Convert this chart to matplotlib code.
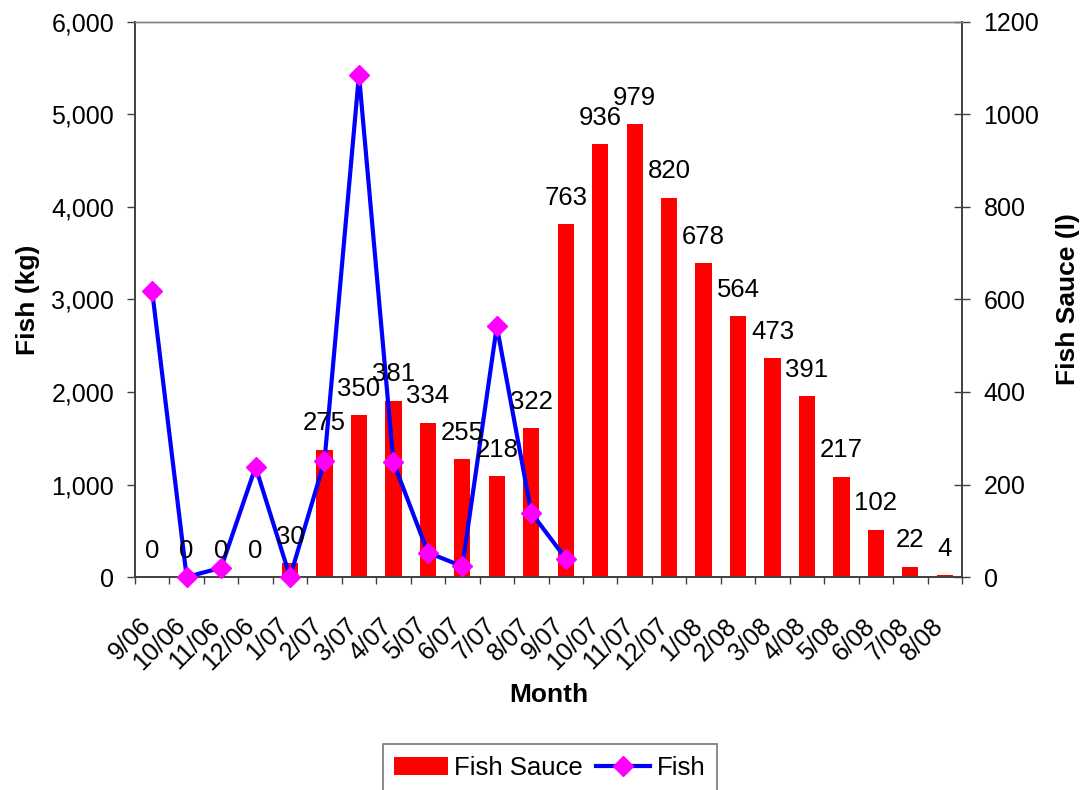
import matplotlib
matplotlib.use("Agg")
import matplotlib.pyplot as plt
from matplotlib.patches import Patch
from matplotlib.lines import Line2D
from matplotlib.ticker import FuncFormatter, FixedLocator

plt.rcParams['font.family'] = ['Liberation Sans', 'DejaVu Sans']

months = ["9/06", "10/06", "11/06", "12/06", "1/07", "2/07", "3/07", "4/07",
          "5/07", "6/07", "7/07", "8/07", "9/07", "10/07", "11/07", "12/07",
          "1/08", "2/08", "3/08", "4/08", "5/08", "6/08", "7/08", "8/08"]
fish_sauce = [0, 0, 0, 0, 30, 275, 350, 381, 334, 255, 218, 322, 763, 936,
              979, 820, 678, 564, 473, 391, 217, 102, 22, 4]
fish = [3090, 0, 100, 1190, 0, 1255, 5430, 1240, 265, 115, 2710, 695, 200]

fig = plt.figure(figsize=(10.84, 7.90), dpi=100)
ax = fig.add_axes([0.1245, 0.2696, 0.763, 0.7026])
ax2 = ax.twinx()

x = list(range(len(months)))
spine_col = '#404040'

# Fish sauce bars on the right axis
ax2.bar(x, fish_sauce, width=0.47, color='#FF0000', zorder=2)
ax2.set_ylim(0, 1200)
ax2.set_yticks(range(0, 1201, 200))
ax2.tick_params(axis='y', direction='inout', length=11, width=1,
                color=spine_col, labelsize=18, pad=10)
ax2.set_ylabel("Fish Sauce (l)", fontsize=19, fontweight='bold')
ax2.yaxis.set_label_coords(1.128, 0.5)
ax2.yaxis.label.set_va('center')

# Fish line on the left axis, drawn above the bars
ax.set_zorder(ax2.get_zorder() + 1)
ax.patch.set_visible(False)
ax.plot(x[:len(fish)], fish, color='#0000FF', linewidth=3,
        marker='D', markersize=10, markerfacecolor='#FF00FF',
        markeredgecolor='#FF00FF', zorder=3, clip_on=False)
ax.set_ylim(0, 6000)
ax.set_yticks(range(0, 6001, 1000))
ax.yaxis.set_major_formatter(FuncFormatter(lambda v, p: f"{int(v):,}"))
ax.tick_params(axis='y', direction='out', length=6, width=1,
               color=spine_col, labelsize=18, pad=9)
ax.set_ylabel("Fish (kg)", fontsize=19, fontweight='bold')
ax.yaxis.set_label_coords(-0.129, 0.5)
ax.yaxis.label.set_va('center')

# Category axis: labels at centres, tick marks at boundaries
ax.set_xlim(-0.5, len(months) - 0.5)
ax.set_xticks(x)
ax.set_xticklabels(months, rotation=45, ha='right', va='baseline',
                   rotation_mode='anchor', fontsize=18)
ax.tick_params(axis='x', which='major', length=0, pad=36)
ax.xaxis.set_minor_locator(FixedLocator([i - 0.5 for i in range(len(months) + 1)]))
ax.tick_params(axis='x', which='minor', direction='out', length=5, width=1,
               color=spine_col)
ax.set_xlabel("Month", fontsize=19, fontweight='bold')
ax.xaxis.set_label_coords(0.5, -0.2126)
ax.xaxis.label.set_va('center')

for a in (ax, ax2):
    for s in ('left', 'right', 'bottom'):
        a.spines[s].set_color(spine_col)
        a.spines[s].set_linewidth(1.2)
    a.spines['top'].set_color('#808080')
    a.spines['top'].set_linewidth(1.0)

# Value labels above each bar
for i, v in enumerate(fish_sauce):
    ax.annotate(str(v), xy=(i, v), xycoords=ax2.transData,
                xytext=(0, 14), textcoords='offset points',
                ha='center', va='baseline', fontsize=18.5, zorder=5)

handles = [Patch(facecolor='#FF0000', edgecolor='none'),
           Line2D([0], [0], color='#0000FF', linewidth=3, marker='D',
                  markersize=10, markerfacecolor='#FF00FF',
                  markeredgecolor='#FF00FF')]
leg = fig.legend(handles, ["Fish Sauce", "Fish"], loc='upper center',
                 bbox_to_anchor=(0.507, 1 - 744 / 790), ncol=2, fontsize=18.5,
                 frameon=True, fancybox=False, borderpad=0.45,
                 borderaxespad=0, handlelength=2.1, handletextpad=0.25,
                 columnspacing=0.5)
leg.get_frame().set_edgecolor('#555555')
leg.get_frame().set_linewidth(1.2)

fig.savefig("out.png", dpi=100)
